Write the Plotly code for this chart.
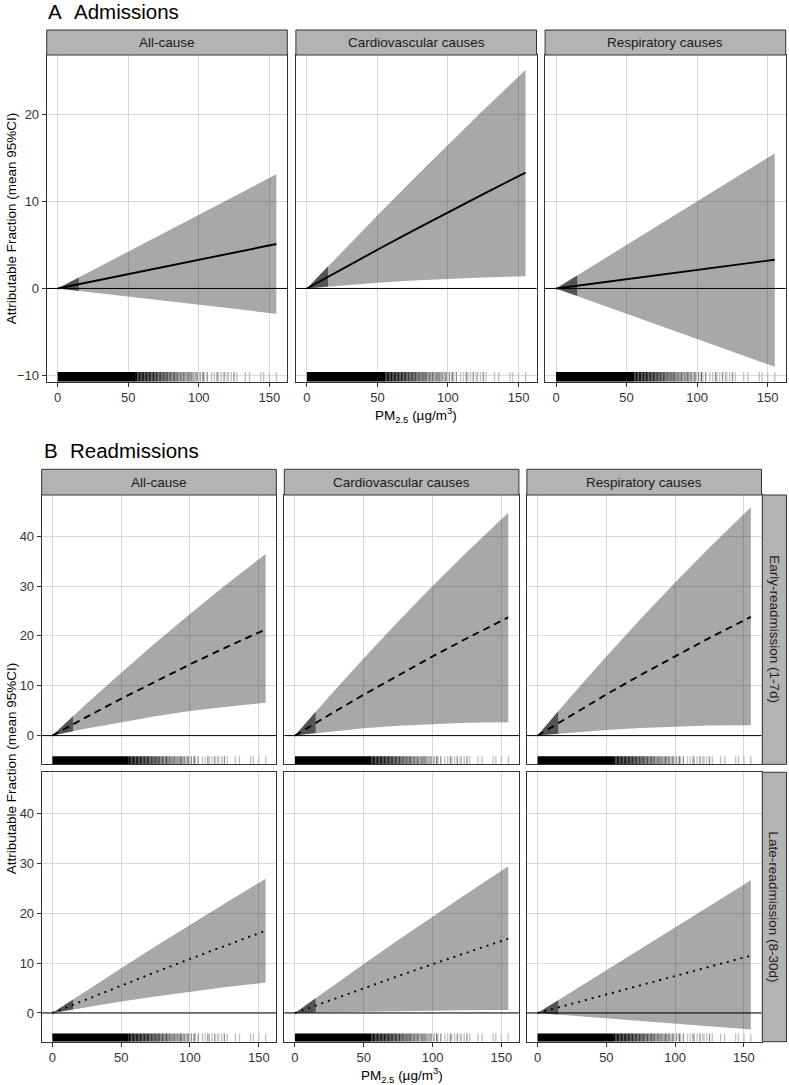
import plotly.graph_objects as go

W, H = 789, 1085

# ---------------- data ----------------
pm = [0, 15, 25, 50, 75, 100, 125, 155]
causes = ["All-cause", "Cardiovascular causes", "Respiratory causes"]
readm_types = ["Early-readmission (1-7d)", "Late-readmission (8-30d)"]

# A: admissions
adm_all_mean = [0, 0.49, 0.82, 1.65, 2.47, 3.29, 4.11, 5.1]
adm_all_lo = [0, -0.28, -0.47, -0.94, -1.40, -1.87, -2.34, -2.9]
adm_all_hi = [0, 1.27, 2.11, 4.23, 6.34, 8.45, 10.56, 13.1]

adm_cvd_mean = [0, 1.35, 2.24, 4.44, 6.61, 8.74, 10.84, 13.3]
adm_cvd_lo = [0, 0.22, 0.35, 0.66, 0.91, 1.12, 1.27, 1.4]
adm_cvd_hi = [0, 2.55, 4.23, 8.39, 12.47, 16.5, 20.45, 25.1]

adm_resp_mean = [0, 0.32, 0.53, 1.06, 1.6, 2.13, 2.66, 3.3]
adm_resp_lo = [0, -0.87, -1.45, -2.9, -4.35, -5.81, -7.26, -9.0]
adm_resp_hi = [0, 1.5, 2.5, 5.0, 7.5, 10.0, 12.5, 15.5]

# B: early readmissions (1-7d)
early_all_mean = [0, 2.27, 3.76, 7.39, 10.9, 14.28, 17.55, 21.3]
early_all_lo = [0, 0.89, 1.45, 2.75, 3.9, 4.91, 5.76, 6.6]
early_all_hi = [0, 3.88, 6.42, 12.63, 18.62, 24.41, 29.99, 36.4]

early_cvd_mean = [0, 2.52, 4.18, 8.22, 12.12, 15.89, 19.52, 23.7]
early_cvd_lo = [0, 0.5, 0.8, 1.46, 1.98, 2.36, 2.6, 2.7]
early_cvd_hi = [0, 4.76, 7.88, 15.51, 22.87, 29.98, 36.82, 44.7]

early_resp_mean = [0, 2.53, 4.2, 8.26, 12.18, 15.96, 19.61, 23.8]
early_resp_lo = [0, 0.39, 0.62, 1.14, 1.54, 1.84, 2.02, 2.1]
early_resp_hi = [0, 4.88, 8.07, 15.89, 23.43, 30.71, 37.73, 45.8]

# B: late readmissions (8-30d)
late_all_mean = [0, 1.67, 2.78, 5.51, 8.2, 10.84, 13.44, 16.5]
late_all_lo = [0, 0.72, 1.19, 2.3, 3.33, 4.28, 5.16, 6.1]
late_all_hi = [0, 2.73, 4.53, 8.99, 13.37, 17.68, 21.92, 26.9]

late_cvd_mean = [0, 1.51, 2.51, 4.98, 7.41, 9.79, 12.14, 14.9]
late_cvd_lo = [0, 0.09, 0.15, 0.28, 0.39, 0.48, 0.55, 0.6]
late_cvd_hi = [0, 2.98, 4.95, 9.82, 14.61, 19.32, 23.95, 29.4]

late_resp_mean = [0, 1.11, 1.85, 3.71, 5.56, 7.42, 9.27, 11.5]
late_resp_lo = [0, -0.32, -0.53, -1.06, -1.6, -2.13, -2.66, -3.3]
late_resp_hi = [0, 2.57, 4.29, 8.58, 12.87, 17.16, 21.45, 26.6]

guideline_pm = 15  # darker band below this exposure

# rug of observed PM2.5 (dense block + individual sparse values with counts)
rug_solid = [0, 55.5]
rug_x = [56, 57, 58, 59, 60, 61, 62, 63, 64, 65,
         66, 67, 68, 69, 70, 71, 72, 73, 74, 75,
         76, 77, 78, 79, 80, 81, 82, 83, 84, 85,
         86, 87, 88, 89, 90, 91, 92, 93, 94, 95,
         96, 97, 98, 99,
         101, 103, 104, 106, 109, 111, 113, 114, 116, 118, 120, 121, 123, 125, 127,
         133, 136, 144, 146, 150, 155]
rug_n = [12, 11, 10, 10, 9, 9, 8, 8, 8, 7,
         7, 6, 7, 6, 6, 5, 5, 5, 5, 4,
         5, 4, 4, 3, 4, 3, 3, 4, 3, 3,
         2, 3, 2, 3, 2, 2, 2, 3, 2, 2,
         2, 1, 2, 2,
         2, 3, 1, 2, 1, 1, 2, 1, 1, 2, 1, 1, 1, 2, 1,
         1, 1, 1, 1, 1, 1]

x_ticks = [0, 50, 100, 150]
a_y_ticks = [-10, 0, 10, 20]
b_y_ticks = [0, 10, 20, 30, 40]

# ---------------- layout geometry (pixels) ----------------
A_lefts = [46.7, 295.9, 545.1]
A_w = 240.6
A_top, A_bot = 55.0, 381.7
A_strip_top = 30.0

B_lefts = [41.7, 284.3, 526.9]
B_w = 234.6
B_rows = [(495.0, 764.3), (772.3, 1041.7)]
B_strip_top = 469.3
B_rstrip = (762.3, 786.5)

GRID = "#D9D9D9"
BORDER = "#333333"
STRIP = "#B3B3B3"
FONT = "Liberation Sans, Arial, Helvetica, sans-serif"


def px(x):
    return x / W


def py(y):
    return 1 - y / H


def exp_range(vals):
    lo, hi = min(vals), max(vals)
    s = hi - lo
    return [lo - 0.05 * s, hi + 0.05 * s]


xr = exp_range(pm)
a_yr = exp_range(adm_all_lo + adm_all_hi + adm_cvd_lo + adm_cvd_hi + adm_resp_lo + adm_resp_hi)
b_yr = exp_range(early_all_lo + early_all_hi + early_cvd_lo + early_cvd_hi + early_resp_lo + early_resp_hi
                 + late_all_lo + late_all_hi + late_cvd_lo + late_cvd_hi + late_resp_lo + late_resp_hi)

DASHED = "7px,5px"
DOTTED = "2px,5px"

panels = [
    # (left, width, top, bottom, yrange, yticks, mean, lo, hi, dash, show_xlab, show_ylab)
    (A_lefts[0], A_w, A_top, A_bot, a_yr, a_y_ticks, adm_all_mean, adm_all_lo, adm_all_hi, "solid", True, True),
    (A_lefts[1], A_w, A_top, A_bot, a_yr, a_y_ticks, adm_cvd_mean, adm_cvd_lo, adm_cvd_hi, "solid", True, False),
    (A_lefts[2], A_w, A_top, A_bot, a_yr, a_y_ticks, adm_resp_mean, adm_resp_lo, adm_resp_hi, "solid", True, False),
    (B_lefts[0], B_w, *B_rows[0], b_yr, b_y_ticks, early_all_mean, early_all_lo, early_all_hi, DASHED, False, True),
    (B_lefts[1], B_w, *B_rows[0], b_yr, b_y_ticks, early_cvd_mean, early_cvd_lo, early_cvd_hi, DASHED, False, False),
    (B_lefts[2], B_w, *B_rows[0], b_yr, b_y_ticks, early_resp_mean, early_resp_lo, early_resp_hi, DASHED, False, False),
    (B_lefts[0], B_w, *B_rows[1], b_yr, b_y_ticks, late_all_mean, late_all_lo, late_all_hi, DOTTED, True, True),
    (B_lefts[1], B_w, *B_rows[1], b_yr, b_y_ticks, late_cvd_mean, late_cvd_lo, late_cvd_hi, DOTTED, True, False),
    (B_lefts[2], B_w, *B_rows[1], b_yr, b_y_ticks, late_resp_mean, late_resp_lo, late_resp_hi, DOTTED, True, False),
]

fig = go.Figure()
shapes = []
annotations = []
layout_axes = {}

for i, (left, w, top, bot, yr, yt, mean, lo, hi, dash, show_x, show_y) in enumerate(panels, start=1):
    xa = "x" if i == 1 else f"x{i}"
    ya = "y" if i == 1 else f"y{i}"
    xkey = "xaxis" if i == 1 else f"xaxis{i}"
    ykey = "yaxis" if i == 1 else f"yaxis{i}"

    layout_axes[xkey] = dict(
        domain=[px(left), px(left + w)], anchor=ya, range=xr,
        tickvals=x_ticks, showticklabels=show_x,
        ticks="outside" if show_x else "", ticklen=4, tickwidth=1, tickcolor=BORDER,
        showgrid=True, gridcolor=GRID, gridwidth=1, zeroline=False,
        showline=True, mirror=True, linecolor=BORDER, linewidth=1,
        tickfont=dict(size=13, color="#333333", family=FONT),
    )
    layout_axes[ykey] = dict(
        domain=[py(bot), py(top)], anchor=xa, range=yr,
        tickvals=yt, showticklabels=show_y,
        ticks="outside" if show_y else "", ticklen=4, tickwidth=1, tickcolor=BORDER,
        showgrid=True, gridcolor=GRID, gridwidth=1, zeroline=False,
        showline=True, mirror=True, linecolor=BORDER, linewidth=1,
        tickfont=dict(size=13, color="#333333", family=FONT),
    )

    # ribbon
    fig.add_trace(go.Scatter(
        x=pm + pm[::-1], y=hi + lo[::-1], xaxis=xa, yaxis=ya,
        fill="toself", fillcolor="rgba(0,0,0,0.34)", line=dict(width=0),
        mode="lines", hoverinfo="skip", showlegend=False))
    # darker band below guideline
    k = [j for j, v in enumerate(pm) if v <= guideline_pm]
    sx = [pm[j] for j in k]
    fig.add_trace(go.Scatter(
        x=sx + sx[::-1], y=[hi[j] for j in k] + [lo[j] for j in k][::-1],
        xaxis=xa, yaxis=ya, fill="toself", fillcolor="rgba(0,0,0,0.5)",
        line=dict(width=0), mode="lines", hoverinfo="skip", showlegend=False))
    # zero reference line
    shapes.append(dict(type="line", xref=f"{xa} domain", yref=ya, x0=0, x1=1, y0=0, y1=0,
                       line=dict(color="black", width=1), layer="above"))
    # mean curve
    fig.add_trace(go.Scatter(
        x=pm, y=mean, xaxis=xa, yaxis=ya, mode="lines",
        line=dict(color="black", width=1.9, dash=dash), hoverinfo="skip", showlegend=False))
    # rug
    r0 = yr[0]
    r1 = yr[0] + 0.03 * (yr[1] - yr[0])
    shapes.append(dict(type="rect", xref=xa, yref=ya, x0=rug_solid[0], x1=rug_solid[1], y0=r0, y1=r1,
                       fillcolor="black", line=dict(width=0), layer="above"))
    for n in sorted(set(rug_n)):
        xs, ys = [], []
        for xv, nv in zip(rug_x, rug_n):
            if nv == n:
                xs += [xv, xv, None]
                ys += [r0, r1, None]
        g = int(round(255 * (0.75 ** n)))
        fig.add_trace(go.Scatter(
            x=xs, y=ys, xaxis=xa, yaxis=ya, mode="lines",
            line=dict(color=f"rgb({g},{g},{g})", width=1.3), hoverinfo="skip", showlegend=False))

# strips A
for c, lab in enumerate(causes):
    l = A_lefts[c]
    shapes.append(dict(type="rect", xref="paper", yref="paper", x0=px(l), x1=px(l + A_w),
                       y0=py(A_top), y1=py(A_strip_top), fillcolor=STRIP, line=dict(color=BORDER, width=1)))
    annotations.append(dict(text=lab, xref="paper", yref="paper", x=px(l + A_w / 2), y=py((A_top + A_strip_top) / 2),
                            showarrow=False, xanchor="center", yanchor="middle",
                            font=dict(size=13.5, color="#1a1a1a", family=FONT)))
# strips B top
for c, lab in enumerate(causes):
    l = B_lefts[c]
    shapes.append(dict(type="rect", xref="paper", yref="paper", x0=px(l), x1=px(l + B_w),
                       y0=py(B_rows[0][0]), y1=py(B_strip_top), fillcolor=STRIP, line=dict(color=BORDER, width=1)))
    annotations.append(dict(text=lab, xref="paper", yref="paper", x=px(l + B_w / 2),
                            y=py((B_rows[0][0] + B_strip_top) / 2),
                            showarrow=False, xanchor="center", yanchor="middle",
                            font=dict(size=13.5, color="#1a1a1a", family=FONT)))
# strips B right
for r, lab in enumerate(readm_types):
    t, b = B_rows[r]
    shapes.append(dict(type="rect", xref="paper", yref="paper", x0=px(B_rstrip[0]), x1=px(B_rstrip[1]),
                       y0=py(b), y1=py(t), fillcolor=STRIP, line=dict(color=BORDER, width=1)))
    annotations.append(dict(text=lab, xref="paper", yref="paper", x=px((B_rstrip[0] + B_rstrip[1]) / 2),
                            y=py((t + b) / 2), textangle=90,
                            showarrow=False, xanchor="center", yanchor="middle",
                            font=dict(size=13.5, color="#1a1a1a", family=FONT)))

# titles
annotations += [
    dict(text="A", xref="paper", yref="paper", x=px(45.5), y=py(11.5), showarrow=False,
         xanchor="left", yanchor="middle", font=dict(size=20.5, color="black", family=FONT)),
    dict(text="Admissions", xref="paper", yref="paper", x=px(72), y=py(11.5), showarrow=False,
         xanchor="left", yanchor="middle", font=dict(size=20.5, color="black", family=FONT)),
    dict(text="B", xref="paper", yref="paper", x=px(41.5), y=py(450.5), showarrow=False,
         xanchor="left", yanchor="middle", font=dict(size=20.5, color="black", family=FONT)),
    dict(text="Readmissions", xref="paper", yref="paper", x=px(68), y=py(450.5), showarrow=False,
         xanchor="left", yanchor="middle", font=dict(size=20.5, color="black", family=FONT)),
]

ytitle = "Attributable Fraction (mean 95%CI)"
xtitle = "PM<sub>2.5</sub> (µg/m<sup>3</sup>)"
annotations += [
    dict(text=ytitle, xref="paper", yref="paper", x=px(11), y=py((A_top + A_bot) / 2), textangle=-90,
         showarrow=False, xanchor="center", yanchor="middle", font=dict(size=13.5, color="black", family=FONT)),
    dict(text=ytitle, xref="paper", yref="paper", x=px(11), y=py((B_rows[0][0] + B_rows[1][1]) / 2),
         textangle=-90, showarrow=False, xanchor="center", yanchor="middle",
         font=dict(size=13.5, color="black", family=FONT)),
    dict(text=xtitle, xref="paper", yref="paper", x=px((A_lefts[0] + A_lefts[2] + A_w) / 2), y=py(414.5),
         showarrow=False, xanchor="center", yanchor="middle", font=dict(size=13.5, color="black", family=FONT)),
    dict(text=xtitle, xref="paper", yref="paper", x=px((B_lefts[0] + B_lefts[2] + B_w) / 2), y=py(1074.5),
         showarrow=False, xanchor="center", yanchor="middle", font=dict(size=13.5, color="black", family=FONT)),
]

fig.update_layout(
    width=W, height=H, margin=dict(l=0, r=0, t=0, b=0),
    paper_bgcolor="white", plot_bgcolor="white",
    showlegend=False, shapes=shapes, annotations=annotations,
    font=dict(family=FONT),
    **layout_axes,
)

fig.write_html(
    "out.html",
    config={"displayModeBar": False},
    post_script="document.body.style.margin='0';document.body.style.padding='0';"
                "document.body.style.overflow='hidden';",
)
